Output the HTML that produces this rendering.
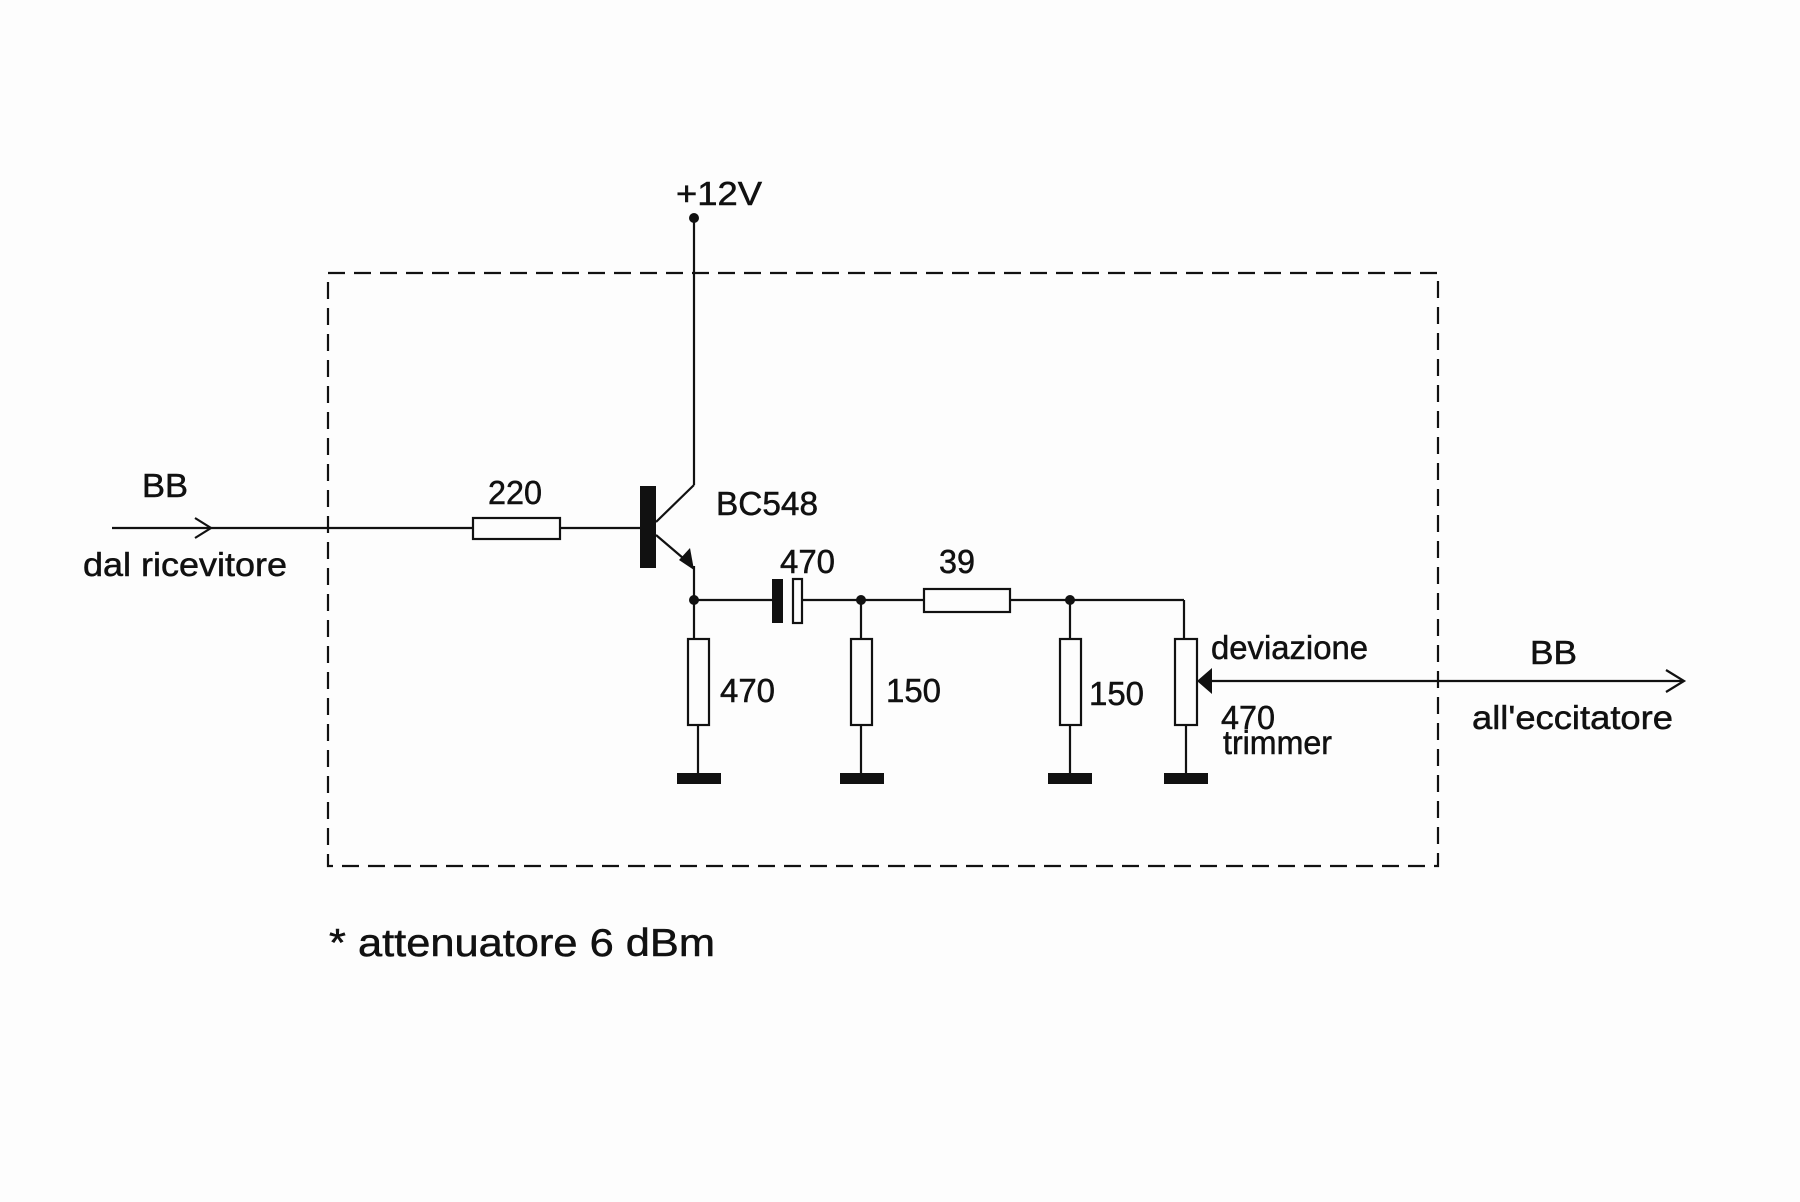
<!DOCTYPE html>
<html><head><meta charset="utf-8"><style>
html,body{margin:0;padding:0;background:#fdfdfd}
svg{display:block}
text{font-family:"Liberation Sans",Arial,sans-serif;fill:#111;stroke:#111;stroke-width:0.5}
</style></head><body>
<svg width="1800" height="1202" viewBox="0 0 1800 1202" xmlns="http://www.w3.org/2000/svg">
<rect width="1800" height="1202" fill="#fdfdfd"/>
<g stroke="#111" stroke-width="2.2" fill="none">
<rect x="328" y="273" width="1110" height="593" stroke-dasharray="17,9"/>
<line x1="112" y1="528" x2="640" y2="528"/>
<polyline points="195,518 211,528 195,538"/>
<rect x="473" y="518" width="87" height="21" fill="#fdfdfd"/>
<line x1="694" y1="218" x2="694" y2="485"/>
<line x1="694" y1="485" x2="656" y2="522"/>
<line x1="656" y1="535" x2="690" y2="564"/>
<line x1="694" y1="566" x2="694" y2="725"/>
<line x1="694" y1="600" x2="772" y2="600"/>
<line x1="803" y1="600" x2="1184" y2="600"/>
<line x1="1184" y1="600" x2="1184" y2="725"/>
<rect x="924" y="589" width="86" height="23" fill="#fdfdfd"/>
<line x1="861" y1="600" x2="861" y2="778"/>
<line x1="1070" y1="600" x2="1070" y2="778"/>
<line x1="698" y1="700" x2="698" y2="778"/>
<line x1="1186" y1="700" x2="1186" y2="778"/>
<rect x="688" y="639" width="21" height="86" fill="#fdfdfd"/>
<rect x="851" y="639" width="21" height="86" fill="#fdfdfd"/>
<rect x="1060" y="639" width="21" height="86" fill="#fdfdfd"/>
<rect x="1175" y="639" width="22" height="86" fill="#fdfdfd"/>
<rect x="793" y="579" width="9" height="44" fill="#fdfdfd"/>
<line x1="1205" y1="681" x2="1684" y2="681"/>
<polyline points="1666,670 1684,681 1666,692"/>
</g>
<g fill="#111">
<circle cx="694" cy="218" r="5"/>
<rect x="640" y="486" width="16" height="82"/>
<polygon points="694,570 679,560 690,548"/>
<circle cx="694" cy="600" r="5"/>
<circle cx="861" cy="600" r="5"/>
<circle cx="1070" cy="600" r="5"/>
<rect x="772" y="579" width="11" height="44"/>
<polygon points="1197,681 1212,668 1212,694"/>
<rect x="677" y="773" width="44" height="11"/>
<rect x="840" y="773" width="44" height="11"/>
<rect x="1048" y="773" width="44" height="11"/>
<rect x="1164" y="773" width="44" height="11"/>
</g>
<g font-size="33">
<text x="676" y="205" textLength="86" lengthAdjust="spacingAndGlyphs">+12V</text>
<text x="142" y="497" textLength="46" lengthAdjust="spacingAndGlyphs">BB</text>
<text x="83" y="576" textLength="204" lengthAdjust="spacingAndGlyphs">dal ricevitore</text>
<text x="488" y="504" textLength="54" lengthAdjust="spacingAndGlyphs">220</text>
<text x="716" y="515" textLength="102" lengthAdjust="spacingAndGlyphs">BC548</text>
<text x="780" y="573" textLength="55" lengthAdjust="spacingAndGlyphs">470</text>
<text x="939" y="573" textLength="36" lengthAdjust="spacingAndGlyphs">39</text>
<text x="720" y="702" textLength="55" lengthAdjust="spacingAndGlyphs">470</text>
<text x="886" y="702" textLength="55" lengthAdjust="spacingAndGlyphs">150</text>
<text x="1089" y="705" textLength="55" lengthAdjust="spacingAndGlyphs">150</text>
<text x="1211" y="659" textLength="157" lengthAdjust="spacingAndGlyphs">deviazione</text>
<text x="1221" y="729" textLength="54" lengthAdjust="spacingAndGlyphs">470</text>
<text x="1223" y="754" textLength="109" lengthAdjust="spacingAndGlyphs">trimmer</text>
<text x="1530" y="664" textLength="47" lengthAdjust="spacingAndGlyphs">BB</text>
<text x="1472" y="729" textLength="201" lengthAdjust="spacingAndGlyphs">all'eccitatore</text>
</g>
<text x="329" y="956" font-size="39" textLength="386" lengthAdjust="spacingAndGlyphs">* attenuatore 6 dBm</text>
</svg>
</body></html>
